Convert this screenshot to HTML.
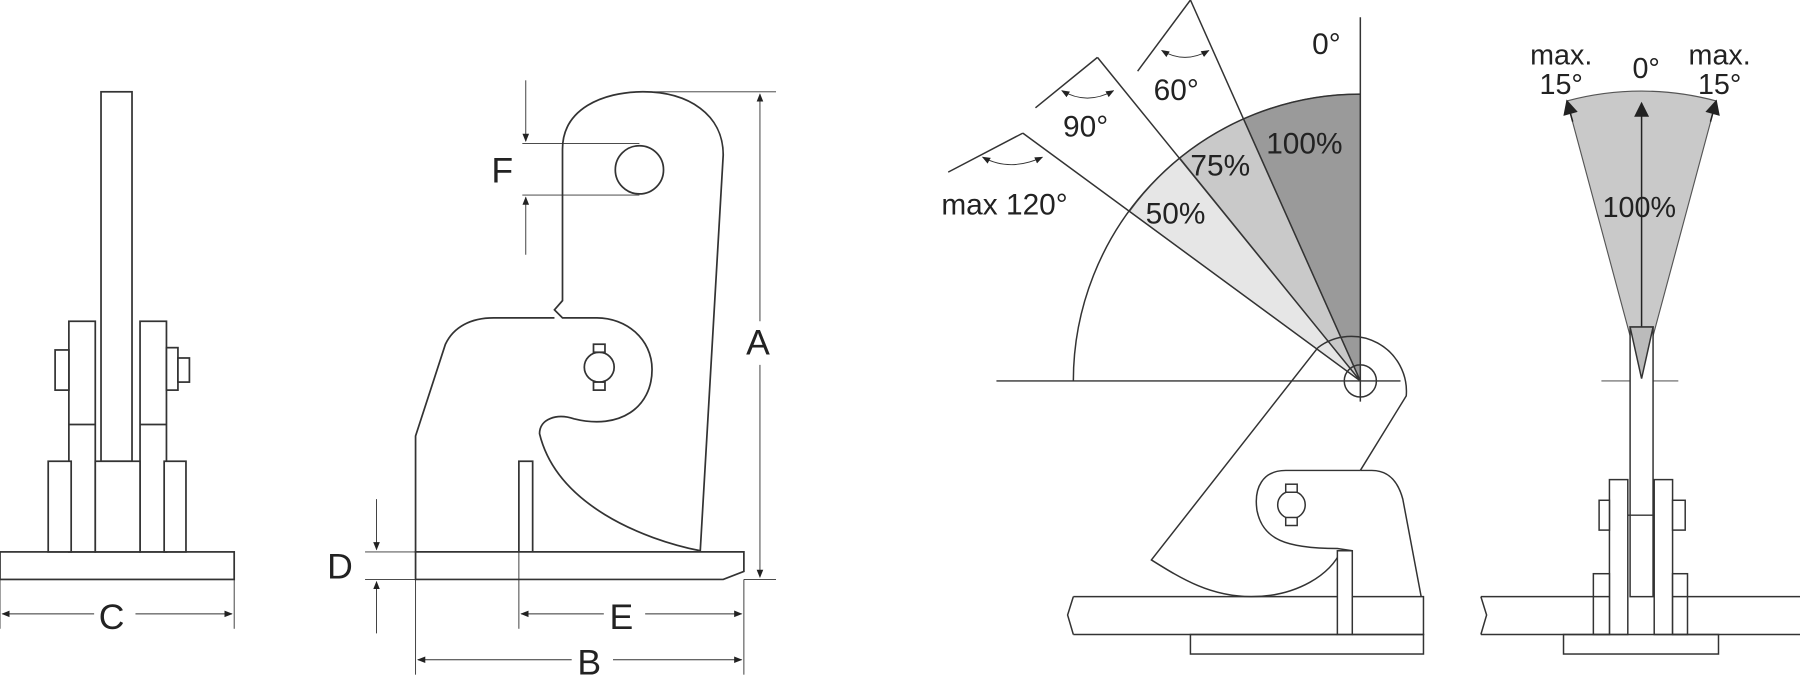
<!DOCTYPE html>
<html><head><meta charset="utf-8"><style>
html,body{margin:0;padding:0;background:#fff;}
svg{display:block;}
text{font-family:"Liberation Sans",sans-serif;fill:#222;}
</style></head><body>
<svg width="1800" height="685" viewBox="0 0 1568 597" preserveAspectRatio="none" xmlns="http://www.w3.org/2000/svg">
<defs>
<marker id="ar" viewBox="0 0 10 10" refX="9" refY="5" markerWidth="9" markerHeight="9" orient="auto-start-reverse"><path d="M0,1 L10,5 L0,9 z" fill="#222"/></marker>
<marker id="ar2" viewBox="0 0 10 10" refX="9" refY="5" markerWidth="12" markerHeight="10" orient="auto-start-reverse"><path d="M0,0 L10,5 L0,10 z" fill="#222"/></marker>
</defs>
<g fill="none" stroke="#333" stroke-width="1.5">
<!-- LEFT FRONT VIEW -->
<rect x="0" y="481" width="204" height="24" fill="#fff"/>
<rect x="88" y="80" width="27" height="322" fill="#fff"/>
<rect x="60" y="280" width="23" height="201" fill="#fff"/>
<rect x="122" y="280" width="23" height="201" fill="#fff"/>
<rect x="42" y="402" width="20" height="79" fill="#fff"/>
<rect x="143" y="402" width="19" height="79" fill="#fff"/>
<rect x="83" y="402" width="39" height="79" fill="#fff"/>
<line x1="60" y1="370" x2="83" y2="370"/><line x1="122" y1="370" x2="145" y2="370"/>
<rect x="48" y="305" width="12" height="35" fill="#fff"/>
<rect x="145" y="303" width="10" height="37" fill="#fff"/>
<rect x="155" y="312" width="10" height="21" fill="#fff"/>
<line x1="0" y1="505" x2="0" y2="548" stroke-width="0.8"/><line x1="204" y1="505" x2="204" y2="548" stroke-width="0.8"/>
<line x1="2" y1="535" x2="82" y2="535" stroke-width="0.8" marker-start="url(#ar)"/>
<line x1="118" y1="535" x2="202" y2="535" stroke-width="0.8" marker-end="url(#ar)"/>

<!-- MIDDLE SIDE VIEW -->
<rect x="452" y="402" width="12" height="79" fill="#fff"/>
<path d="M490,130 C490,95 525,80 560,80 C600,80 630,100 630,135 L610,480 C560,470 485,440 470,378 C470,365 485,360 500,365 C540,375 568,355 568,322 C568,295 545,277 520,277 L490,277 L483,270 L490,262 Z" fill="#fff"/>
<path d="M483,277 L430,277 C410,277 395,285 388,300 L362,380 L362,481 L452,481" />
<path d="M464,481 L610,481"/>
<path d="M362,481 L648,481 L648,498 L630,505 L362,505 Z" fill="#fff"/>
<circle cx="557" cy="148" r="21"/>
<circle cx="522" cy="320" r="13"/>
<rect x="517" y="300" width="10" height="7" fill="#fff"/><rect x="517" y="333" width="10" height="7" fill="#fff"/>
<!-- dims -->
<g stroke-width="0.8">
<line x1="455" y1="125" x2="557" y2="125"/><line x1="455" y1="170" x2="557" y2="170"/>
<line x1="458" y1="70" x2="458" y2="123" marker-end="url(#ar)"/>
<line x1="458" y1="222" x2="458" y2="172" marker-end="url(#ar)"/>
<line x1="570" y1="80" x2="676" y2="80"/><line x1="648" y1="505" x2="676" y2="505"/>
<line x1="662" y1="82" x2="662" y2="280" marker-start="url(#ar)"/>
<line x1="662" y1="318" x2="662" y2="503" marker-end="url(#ar)"/>
<line x1="328" y1="435" x2="328" y2="479" marker-end="url(#ar)"/>
<line x1="328" y1="552" x2="328" y2="507" marker-end="url(#ar)"/>
<line x1="318" y1="481" x2="362" y2="481"/><line x1="318" y1="505" x2="362" y2="505"/>
<line x1="362" y1="505" x2="362" y2="588"/><line x1="648" y1="505" x2="648" y2="588"/><line x1="452" y1="481" x2="452" y2="548"/>
<line x1="454" y1="535" x2="526" y2="535" marker-start="url(#ar)"/>
<line x1="562" y1="535" x2="646" y2="535" marker-end="url(#ar)"/>
<line x1="364" y1="575" x2="498" y2="575" marker-start="url(#ar)"/>
<line x1="534" y1="575" x2="646" y2="575" marker-end="url(#ar)"/>
</g>
</g>
<g font-size="31">
<text x="86" y="548">C</text>
<text x="428" y="159">F</text>
<text x="650" y="309">A</text>
<text x="285" y="504">D</text>
<text x="531" y="548">E</text>
<text x="503" y="588">B</text>
</g>

<!-- ANGLE DIAGRAM -->
<g stroke="#555" stroke-width="1">
<path d="M1185,332 L1185,82 A250,250 0 0 0 1083.3,103.6 Z" fill="#9a9a9a"/>
<path d="M1185,332 L1083.3,103.6 A250,250 0 0 0 1027.7,137.7 Z" fill="#c9c9c9"/>
<path d="M1185,332 L1027.7,137.7 A250,250 0 0 0 983.9,184.2 Z" fill="#e6e6e6"/>
</g>
<g fill="none" stroke="#333" stroke-width="1.3">
<path d="M935,332 A250,250 0 0 1 1185,82"/>
<line x1="868" y1="332" x2="1220" y2="332"/>
<line x1="1185" y1="15" x2="1185" y2="350"/>
<line x1="1185" y1="332" x2="1037" y2="0"/><line x1="1037" y1="0" x2="991" y2="62"/>
<line x1="1185" y1="332" x2="956" y2="50"/><line x1="956" y1="50" x2="902" y2="94"/>
<line x1="1185" y1="332" x2="891" y2="116"/><line x1="891" y1="116" x2="826" y2="150"/>
<path d="M1012,44 Q1032,56 1053,44" stroke-width="0.8" marker-start="url(#ar)" marker-end="url(#ar)"/>
<path d="M925,79 Q947,92 970,79" stroke-width="0.8" marker-start="url(#ar)" marker-end="url(#ar)"/>
<path d="M856,137 Q880,150 908,137" stroke-width="0.8" marker-start="url(#ar)" marker-end="url(#ar)"/>
<!-- clamp -->
<path d="M1148,303 L1003,488 C1030,505 1055,520 1090,520 C1130,520 1160,500 1168,480" fill="none"/>
<path d="M1148,303 A48,48 0 0 1 1225,345 L1185,410"/>
<path d="M1185,410 L1120,410 C1100,410 1092,425 1095,445 C1100,470 1120,478 1165,478 L1178,480"/>
<path d="M1185,410 L1195,410 C1210,410 1218,420 1222,435 L1238,520"/>
<circle cx="1185" cy="332" r="14"/>
<circle cx="1125" cy="440" r="12"/>
<rect x="1120" y="422" width="10" height="7" fill="#fff"/><rect x="1120" y="451" width="10" height="7" fill="#fff"/>
<rect x="1165" y="480" width="13" height="73" fill="#fff"/>
<path d="M935,520 L1165,520 M1178,520 L1240,520 L1240,553 L1178,553 M1165,553 L935,553 M935,520 L930,536 L935,553"/>
<rect x="1037" y="553" width="203" height="17"/>
</g>
<g font-size="26">
<text x="1143" y="47">0°</text>
<text x="1005" y="87">60°</text>
<text x="926" y="119">90°</text>
<text x="820" y="187">max 120°</text>
<text x="1103" y="134">100%</text>
<text x="1037" y="153">75%</text>
<text x="998" y="195">50%</text>
</g>

<!-- RIGHT VIEW -->
<path d="M1430,330 L1365,88 A250,250 0 0 1 1495,88 Z" fill="#c9c9c9" stroke="#555" stroke-width="1"/>
<g fill="none" stroke="#333" stroke-width="1.3">
<line x1="1430" y1="290" x2="1430" y2="90" marker-end="url(#ar2)" stroke="#222"/>
<line x1="1370" y1="106" x2="1365" y2="88" marker-end="url(#ar2)" stroke="#222"/>
<line x1="1490" y1="106" x2="1495" y2="88" marker-end="url(#ar2)" stroke="#222"/>
<line x1="1395" y1="332" x2="1462" y2="332" stroke-width="0.8"/>
<rect x="1420" y="285" width="20" height="235" fill="#fff"/>
<path d="M1420,285 L1440,285 L1430,330 Z" fill="#bbb"/>
<rect x="1402" y="418" width="16" height="135" fill="#fff"/>
<rect x="1441" y="418" width="16" height="135" fill="#fff"/>
<rect x="1388" y="500" width="14" height="53" fill="#fff"/>
<rect x="1457" y="500" width="13" height="53" fill="#fff"/>
<rect x="1393" y="436" width="9" height="26" fill="#fff"/>
<rect x="1457" y="436" width="11" height="26" fill="#fff"/>
<line x1="1418" y1="449" x2="1441" y2="449"/>
<path d="M1290,520 L1402,520 M1457,520 L1568,520 M1290,553 L1402,553 M1457,553 L1568,553 M1290,520 L1295,536 L1290,553"/>
<rect x="1362" y="553" width="135" height="17"/>
</g>
<g font-size="25" text-anchor="middle">
<text x="1360" y="56">max.</text><text x="1360" y="82">15°</text>
<text x="1434" y="68">0°</text>
<text x="1498" y="56">max.</text><text x="1498" y="82">15°</text>
<text x="1428" y="189">100%</text>
</g>
</svg>
</body></html>
